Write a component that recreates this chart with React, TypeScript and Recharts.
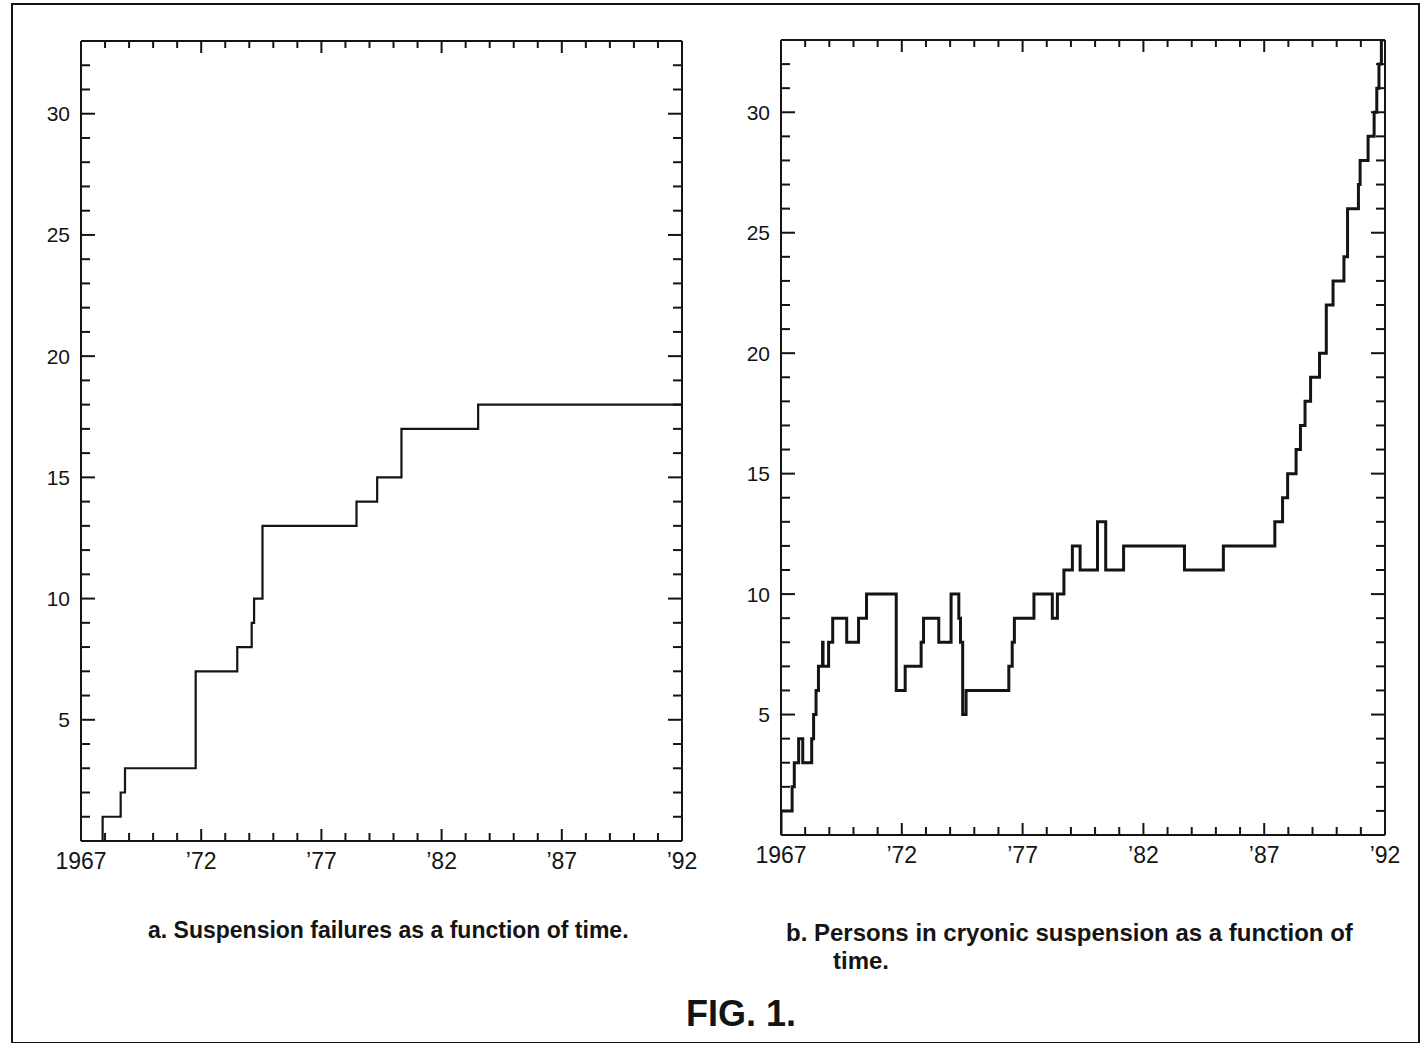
import React from 'react';
import { LineChart, Line, XAxis, YAxis } from 'recharts';

// ---- Panel a: suspension failures (cumulative) ----
const yearsA = [1967.9, 1967.9, 1968.65, 1968.83, 1971.77, 1973.5, 1974.1, 1974.2, 1974.55, 1978.46, 1979.32, 1980.33, 1983.52, 1992];
const failuresA = [0, 1, 2, 3, 7, 8, 9, 10, 13, 14, 15, 17, 18, 18];

// ---- Panel b: persons in cryonic suspension ----
const yearsB = [
  1967.0, 1967.0, 1967.46, 1967.55, 1967.73, 1967.9, 1968.27, 1968.35, 1968.45, 1968.55,
  1968.72, 1968.74, 1968.97, 1969.14, 1969.72, 1970.21, 1970.54, 1971.77, 1972.14, 1972.8,
  1972.9, 1973.53, 1974.04, 1974.36, 1974.43, 1974.52, 1974.66, 1976.43, 1976.57, 1976.66,
  1977.47, 1978.23, 1978.44, 1978.71, 1979.06, 1979.38, 1980.1, 1980.44, 1981.18, 1983.7,
  1985.31, 1987.44, 1987.76, 1987.97, 1988.32, 1988.5, 1988.69, 1988.92, 1989.29, 1989.57,
  1989.85, 1990.3, 1990.45, 1990.9, 1990.97, 1991.3, 1991.55, 1991.66, 1991.75, 1991.85, 1992.0,
];
const personsB = [
  0, 1, 2, 3, 4, 3, 4, 5, 6, 7,
  8, 7, 8, 9, 8, 9, 10, 6, 7, 8,
  9, 8, 10, 9, 8, 5, 6, 7, 8, 9,
  10, 9, 10, 11, 12, 11, 13, 11, 12, 11,
  12, 13, 14, 15, 16, 17, 18, 19, 20, 22,
  23, 24, 26, 27, 28, 29, 30, 31, 32, 33, 33,
];

// ---- Axis definitions ----
const X_MIN = 1967;
const X_MAX = 1992;
const Y_MIN = 0;
const Y_MAX = 33;
const labelYears = [1967, 1972, 1977, 1982, 1987, 1992];
const labelTexts = ['1967', '\u201972', '\u201977', '\u201982', '\u201987', '\u201992'];
const yLabelValues = [5, 10, 15, 20, 25, 30];

const yearTicks: number[] = [];
for (let y = X_MIN; y <= X_MAX; y++) yearTicks.push(y);
const valueTicks: number[] = [];
for (let v = Y_MIN; v <= Y_MAX; v++) valueTicks.push(v);

const dataA = yearsA.map((x, i) => ({ x, y: failuresA[i] }));
const dataB = yearsB.map((x, i) => ({ x, y: personsB[i] }));

const INK = '#141414';
const FONT = '"Liberation Sans", Arial, Helvetica, sans-serif';

type Side = 'left' | 'right' | 'top' | 'bottom';

function makeTick(side: Side, minor: number, major: number, showLabels: boolean) {
  return (props: any) => {
    const { x, y, payload } = props;
    const v = payload.value as number;
    const isX = side === 'top' || side === 'bottom';
    const isMajor = isX ? (v - X_MIN) % 5 === 0 : v % 5 === 0;
    const len = isMajor ? major : minor;
    let line;
    if (side === 'left') line = <line x1={x} y1={y} x2={x + len} y2={y} />;
    else if (side === 'right') line = <line x1={x} y1={y} x2={x - len} y2={y} />;
    else if (side === 'top') line = <line x1={x} y1={y} x2={x} y2={y + len} />;
    else line = <line x1={x} y1={y} x2={x} y2={y - len} />;
    let label = null;
    if (showLabels && side === 'left' && yLabelValues.indexOf(v) >= 0) {
      label = (
        <text x={x - 11} y={y} textAnchor="end" dominantBaseline="central" fontSize={21} fill={INK} stroke="none" fontFamily={FONT}>
          {String(v)}
        </text>
      );
    }
    if (showLabels && side === 'bottom') {
      const idx = labelYears.indexOf(v);
      if (idx >= 0) {
        label = (
          <text x={x} y={y + 28} textAnchor="middle" fontSize={23} fill={INK} stroke="none" fontFamily={FONT}>
            {labelTexts[idx]}
          </text>
        );
      }
    }
    return (
      <g>
        <g stroke={INK} strokeWidth={2}>{line}</g>
        {label}
      </g>
    );
  };
}

type PanelProps = {
  data: { x: number; y: number }[];
  left: number;
  width: number;
  height: number;
  plotLeft: number;
  plotRight: number;
  plotTop: number;
  plotBottom: number;
  lineWidth: number;
};

function Panel(p: PanelProps) {
  const axisLine = { stroke: INK, strokeWidth: 2 };
  return (
    <div style={{ position: 'absolute', left: p.left, top: 0 }}>
      <LineChart
        width={p.width}
        height={p.height}
        data={p.data}
        margin={{
          top: p.plotTop - 1,
          left: p.plotLeft - 1,
          right: p.width - p.plotRight - 1,
          bottom: p.height - p.plotBottom - 1,
        }}
        style={{ overflow: 'visible' }}
      >
        <XAxis
          dataKey="x"
          type="number"
          domain={[X_MIN, X_MAX]}
          allowDataOverflow
          ticks={yearTicks}
          interval={0}
          height={1}
          tickSize={0}
          tickMargin={0}
          tickLine={false}
          axisLine={axisLine}
          tick={makeTick('bottom', 8, 12, true)}
        />
        <XAxis
          xAxisId="top"
          orientation="top"
          dataKey="x"
          type="number"
          domain={[X_MIN, X_MAX]}
          allowDataOverflow
          ticks={yearTicks}
          interval={0}
          height={1}
          tickSize={0}
          tickMargin={0}
          tickLine={false}
          axisLine={axisLine}
          tick={makeTick('top', 7, 12, false)}
        />
        <YAxis
          type="number"
          domain={[Y_MIN, Y_MAX]}
          allowDataOverflow
          ticks={valueTicks}
          interval={0}
          width={1}
          tickSize={0}
          tickMargin={0}
          tickLine={false}
          axisLine={axisLine}
          tick={makeTick('left', 9, 14, true)}
        />
        <YAxis
          yAxisId="right"
          orientation="right"
          type="number"
          domain={[Y_MIN, Y_MAX]}
          allowDataOverflow
          ticks={valueTicks}
          interval={0}
          width={1}
          tickSize={0}
          tickMargin={0}
          tickLine={false}
          axisLine={axisLine}
          tick={makeTick('right', 9, 14, false)}
        />
        <Line
          xAxisId="top"
          yAxisId="right"
          type="stepAfter"
          dataKey="y"
          stroke="none"
          strokeWidth={0}
          dot={false}
          activeDot={false}
          legendType="none"
          isAnimationActive={false}
        />
        <Line
          type="stepAfter"
          dataKey="y"
          stroke={INK}
          strokeWidth={p.lineWidth}
          dot={false}
          activeDot={false}
          isAnimationActive={false}
          strokeLinejoin="miter"
        />
      </LineChart>
    </div>
  );
}

export default function App() {
  return (
    <div
      style={{
        position: 'absolute',
        left: 0,
        top: 0,
        width: 1423,
        height: 1043,
        background: '#fff',
        overflow: 'hidden',
        fontFamily: FONT,
        color: INK,
      }}
    >
      <div
        style={{
          position: 'absolute',
          left: 11,
          top: 3,
          width: 1405,
          height: 1037,
          border: `2px solid ${INK}`,
        }}
      />
      <Panel data={dataA} left={0} width={720} height={900} plotLeft={81} plotRight={682} plotTop={41} plotBottom={841} lineWidth={2.2} />
      <Panel data={dataB} left={700} width={720} height={900} plotLeft={81} plotRight={685} plotTop={40} plotBottom={835} lineWidth={3} />
      <div style={{ position: 'absolute', left: 148, top: 917, fontSize: 23, fontWeight: 700, whiteSpace: 'nowrap' }}>
        a. Suspension failures as a function of time.
      </div>
      <div style={{ position: 'absolute', left: 786, top: 919, fontSize: 24, fontWeight: 700, whiteSpace: 'nowrap', lineHeight: '28px' }}>
        b. Persons in cryonic suspension as a function of
        <br />
        <span style={{ marginLeft: 47 }}>time.</span>
      </div>
      <div style={{ position: 'absolute', left: 0, width: 1482, top: 993, textAlign: 'center', fontSize: 36, fontWeight: 700 }}>
        FIG. 1.
      </div>
    </div>
  );
}
